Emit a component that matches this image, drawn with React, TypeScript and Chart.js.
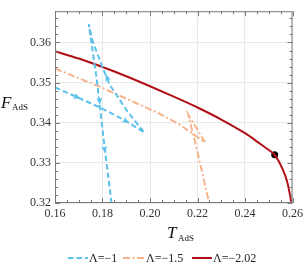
import React, { useEffect, useRef } from 'react';
import { Chart, registerables } from 'chart.js';

Chart.register(...registerables);

// ---- data ----
const xMin = 0.16;
const xMax = 0.26;
const yMin = 0.32;
const yMax = 0.3678;
const xTickStep = 0.02;
const yTickStep = 0.01;

const seriesLabels = ['Λ=−1', 'Λ=−1.5', 'Λ=−2.02'];

// Λ = -1 (three branches, path order)
const blueT = [0.16, 0.17, 0.18, 0.19, 0.1977, 0.1905, 0.183, 0.1797, 0.1759, 0.1742, 0.1776, 0.1809, 0.1838];
const blueF = [0.3488, 0.3462, 0.3435, 0.3404, 0.3375, 0.3428, 0.3495, 0.3543, 0.3602, 0.3646, 0.3507, 0.3339, 0.32];

// Λ = -1.5
const orangeT = [0.16, 0.1788, 0.2039, 0.2123, 0.2232, 0.2161, 0.2198, 0.2249];
const orangeF = [0.3535, 0.349, 0.3423, 0.3396, 0.3351, 0.342, 0.3332, 0.32];

// Λ = -2.02
const redT = [0.16, 0.17, 0.18, 0.19, 0.2, 0.21, 0.22, 0.23, 0.24, 0.2458, 0.25, 0.2525, 0.256, 0.2579, 0.2596];
const redF = [0.3578, 0.356, 0.3539, 0.3516, 0.3491, 0.3465, 0.3438, 0.3408, 0.3374, 0.335, 0.3332, 0.332, 0.3282, 0.325, 0.32];

// marked point on Λ = -2.02
const dotT = [0.2525];
const dotF = [0.332];

// arrow locations on Λ = -1
const arrowT = [0.1696, 0.1901, 0.1818, 0.1788, 0.1809];
const arrowF = [0.3463, 0.3403, 0.3514, 0.3452, 0.3332];

const BLUE = '#5cc2ec';
const ORANGE = '#f6b48c';
const RED = '#b00f16';
const BLUE_DASH = [5.5, 3];
const ORANGE_DASH = [7, 2.5, 2, 2.5];
const SERIF = '"Liberation Serif", "Times New Roman", serif';

const zip = (xs: number[], ys: number[]) => xs.map((x, i) => ({ x, y: ys[i] }));

const decorPlugin = {
  id: 'decor',
  afterDatasetsDraw(chart: any) {
    const ctx = chart.ctx;
    const xs = chart.scales.x;
    const ys = chart.scales.y;
    const area = chart.chartArea;
    const path = blueT.map((t, i) => [xs.getPixelForValue(t), ys.getPixelForValue(blueF[i])]);
    ctx.save();
    ctx.beginPath();
    ctx.rect(area.left, area.top, area.right - area.left, area.bottom - area.top);
    ctx.clip();
    ctx.fillStyle = BLUE;
    arrowT.forEach((t, k) => {
      const px = xs.getPixelForValue(t);
      const py = ys.getPixelForValue(arrowF[k]);
      let best = Infinity;
      let dx = 1, dy = 0;
      for (let i = 0; i < path.length - 1; i++) {
        const [x1, y1] = path[i];
        const [x2, y2] = path[i + 1];
        const vx = x2 - x1, vy = y2 - y1;
        const len2 = vx * vx + vy * vy;
        let u = ((px - x1) * vx + (py - y1) * vy) / len2;
        u = Math.max(0, Math.min(1, u));
        const cx = x1 + u * vx, cy = y1 + u * vy;
        const d = (cx - px) ** 2 + (cy - py) ** 2;
        if (d < best) {
          best = d;
          const l = Math.sqrt(len2);
          dx = vx / l;
          dy = vy / l;
        }
      }
      const L = 7, W = 3;
      const tipX = px + dx * 3, tipY = py + dy * 3;
      const bx = tipX - dx * L, by = tipY - dy * L;
      ctx.beginPath();
      ctx.moveTo(tipX, tipY);
      ctx.lineTo(bx - dy * W, by + dx * W);
      ctx.lineTo(bx + dx * 1.5, by + dy * 1.5);
      ctx.lineTo(bx + dy * W, by - dx * W);
      ctx.closePath();
      ctx.fill();
    });
    ctx.restore();
  },
  afterDraw(chart: any) {
    const ctx = chart.ctx;
    const xs = chart.scales.x;
    const ys = chart.scales.y;
    const { left, right, top, bottom } = chart.chartArea;
    ctx.save();
    // frame
    ctx.strokeStyle = '#7a7a7a';
    ctx.lineWidth = 1;
    ctx.strokeRect(left + 0.5, top + 0.5, right - left - 1, bottom - top - 1);
    // ticks
    ctx.beginPath();
    for (let i = 0; i <= 20; i++) {
      const v = xMin + i * 0.005;
      const p = Math.round(xs.getPixelForValue(v)) + 0.5;
      const len = i % 4 === 0 ? 5 : 3;
      ctx.moveTo(p, bottom);
      ctx.lineTo(p, bottom - len);
      ctx.moveTo(p, top);
      ctx.lineTo(p, top + len);
    }
    for (let i = 0; ; i++) {
      const v = yMin + i * 0.002;
      if (v > yMax + 1e-9) break;
      const p = Math.round(ys.getPixelForValue(v)) + 0.5;
      const len = i % 5 === 0 ? 5 : 3;
      ctx.moveTo(left, p);
      ctx.lineTo(left + len, p);
      ctx.moveTo(right, p);
      ctx.lineTo(right - len, p);
    }
    ctx.stroke();

    // axis titles
    ctx.fillStyle = '#111';
    ctx.textBaseline = 'alphabetic';
    ctx.textAlign = 'left';
    ctx.font = `italic 17px ${SERIF}`;
    ctx.fillText('T', 167, 238);
    ctx.font = `9px ${SERIF}`;
    ctx.fillText('AdS', 178, 241);
    ctx.font = `italic 17px ${SERIF}`;
    ctx.fillText('F', 1, 108);
    ctx.font = `9px ${SERIF}`;
    ctx.fillText('AdS', 12, 110);

    // legend
    const ly = 258;
    const items = [
      { c: BLUE, d: BLUE_DASH, x0: 68, w: 20 },
      { c: ORANGE, d: ORANGE_DASH, x0: 123, w: 22 },
      { c: RED, d: [], x0: 192, w: 20 },
    ];
    items.forEach((it, i) => {
      ctx.strokeStyle = it.c;
      ctx.lineWidth = 2;
      ctx.setLineDash(it.d);
      ctx.beginPath();
      ctx.moveTo(it.x0, ly);
      ctx.lineTo(it.x0 + it.w, ly);
      ctx.stroke();
      ctx.setLineDash([]);
      ctx.fillStyle = '#222';
      ctx.font = `12px ${SERIF}`;
      ctx.textBaseline = 'middle';
      ctx.fillText(seriesLabels[i], it.x0 + it.w + 1, ly + 0.5);
    });
    ctx.restore();
  },
};

export default function App() {
  const ref = useRef<HTMLCanvasElement | null>(null);
  useEffect(() => {
    document.body.style.margin = '0';
    const canvas = ref.current;
    if (!canvas) return;
    const chart = new Chart(canvas, {
      type: 'scatter',
      data: {
        datasets: [
          {
            label: seriesLabels[0],
            data: zip(blueT, blueF),
            showLine: true,
            borderColor: BLUE,
            borderWidth: 2,
            borderDash: BLUE_DASH,
            pointRadius: 0,
            tension: 0,
          },
          {
            label: seriesLabels[1],
            data: zip(orangeT, orangeF),
            showLine: true,
            borderColor: ORANGE,
            borderWidth: 2,
            borderDash: ORANGE_DASH,
            pointRadius: 0,
            tension: 0,
          },
          {
            label: seriesLabels[2],
            data: zip(redT, redF),
            showLine: true,
            borderColor: RED,
            borderWidth: 2,
            pointRadius: 0,
            cubicInterpolationMode: 'monotone',
          },
          {
            label: 'point',
            data: zip(dotT, dotF),
            showLine: false,
            pointRadius: 3.5,
            pointBackgroundColor: '#000',
            pointBorderColor: '#000',
            borderWidth: 0,
          },
        ],
      },
      options: {
        responsive: false,
        animation: false,
        events: [],
        layout: { padding: { top: 3, right: 13, left: 0, bottom: 0 } },
        plugins: { legend: { display: false }, tooltip: { enabled: false } },
        scales: {
          x: {
            type: 'linear',
            min: xMin,
            max: xMax,
            afterFit: (s: any) => { s.height = 69; },
            ticks: {
              stepSize: xTickStep,
              includeBounds: false,
              padding: 4,
              color: '#333',
              font: { family: SERIF, size: 12 },
              maxRotation: 0,
              callback: (v: any) => Number(v).toFixed(2),
            },
            grid: { color: '#e9e9e9', drawTicks: false },
            border: { display: false },
          },
          y: {
            type: 'linear',
            min: yMin,
            max: yMax,
            afterFit: (s: any) => { s.width = 55; },
            ticks: {
              stepSize: yTickStep,
              includeBounds: false,
              padding: 4,
              color: '#333',
              font: { family: SERIF, size: 12 },
              callback: (v: any) => Number(v).toFixed(2),
            },
            grid: { color: '#e9e9e9', drawTicks: false },
            border: { display: false },
          },
        },
      },
      plugins: [decorPlugin],
    });
    return () => chart.destroy();
  }, []);
  return (
    <div style={{ width: 307, height: 272 }}>
      <canvas ref={ref} width={307} height={272} style={{ width: 307, height: 272, display: 'block' }} />
    </div>
  );
}
